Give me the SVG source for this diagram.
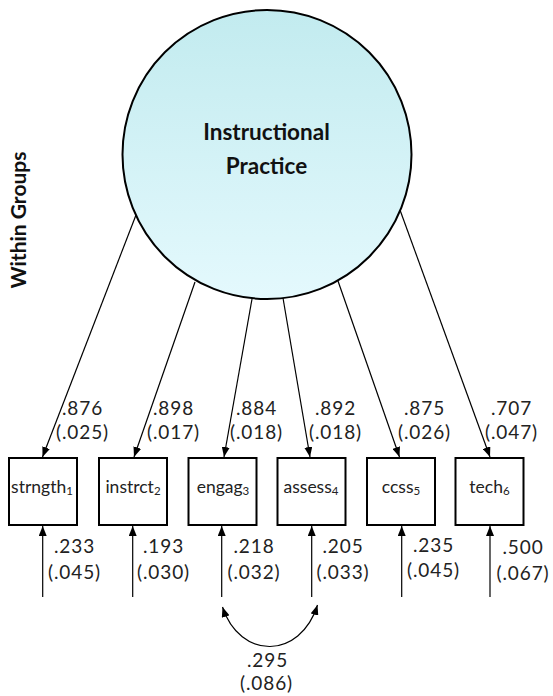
<svg xmlns="http://www.w3.org/2000/svg" width="553" height="696" viewBox="0 0 553 696">
<defs>
<linearGradient id="lg" x1="0" y1="0" x2="0" y2="1">
<stop offset="0" stop-color="#c2ebef"/>
<stop offset="1" stop-color="#e4f9fd"/>
</linearGradient>
<marker id="ah" markerUnits="userSpaceOnUse" markerWidth="10" markerHeight="8" refX="10" refY="4" orient="auto-start-reverse" viewBox="0 0 10 8">
<path d="M0,0 L10,4 L0,8 z" fill="#000"/>
</marker>
<style>
.lat{fill:url(#lg);stroke:#000;stroke-width:2}
.box{fill:#fff;stroke:#000;stroke-width:2}
.lt{font-family:Lato,"Open Sans",sans-serif;font-weight:bold;font-size:22.5px;fill:#111;text-anchor:middle}
.bt{font-family:Lato,"Open Sans",sans-serif;font-size:17.5px;fill:#222;text-anchor:middle}
.sub{font-size:11.5px}
.num{font-family:Lato,"Open Sans",sans-serif;font-size:19px;fill:#222;text-anchor:middle;letter-spacing:0.9px}
.ln{fill:none;stroke:#000;stroke-width:1.2}
</style>
</defs>
<g id="title">
<text transform="translate(26,220) rotate(-90)" style="font-family:Lato,'Open Sans',sans-serif;font-weight:bold;font-size:21px;fill:#111;text-anchor:middle">Within Groups</text>
</g>
<g id="instructional-practice">
<circle class="lat" cx="267" cy="154.5" r="144.5"/>
<text class="lt" x="266.5" y="139.5">Instructional</text>
<text class="lt" x="266.5" y="173.5">Practice</text>
</g>
<g id="strngth">
<rect class="box" x="9" y="458" width="68" height="67"/>
<text class="bt" x="42" y="493">strngth<tspan class="sub" dy="2">1</tspan></text>
</g>
<g id="instrct">
<rect class="box" x="99" y="458" width="68" height="67"/>
<text class="bt" x="133" y="493">instrct<tspan class="sub" dy="2">2</tspan></text>
</g>
<g id="engag">
<rect class="box" x="188.5" y="458" width="68" height="67"/>
<text class="bt" x="223" y="493">engag<tspan class="sub" dy="2">3</tspan></text>
</g>
<g id="assess">
<rect class="box" x="277.5" y="458" width="68" height="67"/>
<text class="bt" x="311" y="493">assess<tspan class="sub" dy="2">4</tspan></text>
</g>
<g id="ccss">
<rect class="box" x="367" y="458" width="68" height="67"/>
<text class="bt" x="401" y="493">ccss<tspan class="sub" dy="2">5</tspan></text>
</g>
<g id="tech">
<rect class="box" x="455.5" y="458" width="68" height="67"/>
<text class="bt" x="489.5" y="493">tech<tspan class="sub" dy="2">6</tspan></text>
</g>
<g id="connectors">
<line class="ln" x1="136" y1="215" x2="42.5" y2="457" marker-end="url(#ah)"/>
<line class="ln" x1="195" y1="282" x2="134" y2="457" marker-end="url(#ah)"/>
<line class="ln" x1="252" y1="299" x2="224" y2="457" marker-end="url(#ah)"/>
<line class="ln" x1="283" y1="298" x2="310" y2="457" marker-end="url(#ah)"/>
<line class="ln" x1="338" y1="281" x2="399.5" y2="457" marker-end="url(#ah)"/>
<line class="ln" x1="400" y1="210" x2="490" y2="457" marker-end="url(#ah)"/>
<line class="ln" x1="42.7" y1="597" x2="42.7" y2="526" marker-end="url(#ah)"/>
<line class="ln" x1="132.7" y1="597" x2="132.7" y2="526" marker-end="url(#ah)"/>
<line class="ln" x1="221.7" y1="597" x2="221.7" y2="526" marker-end="url(#ah)"/>
<line class="ln" x1="311.7" y1="597" x2="311.7" y2="526" marker-end="url(#ah)"/>
<line class="ln" x1="401.7" y1="597" x2="401.7" y2="526" marker-end="url(#ah)"/>
<line class="ln" x1="490" y1="597" x2="490" y2="526" marker-end="url(#ah)"/>
<path class="ln" d="M222.5,607 C240,660 300,660 317.5,605" marker-start="url(#ah)" marker-end="url(#ah)"/>
</g>
<g id="labels">
<text class="num" x="82.5" y="415">.876</text><text class="num" x="82.5" y="439">(.025)</text>
<text class="num" x="173.5" y="415">.898</text><text class="num" x="173.5" y="439">(.017)</text>
<text class="num" x="256.5" y="415">.884</text><text class="num" x="256.5" y="439">(.018)</text>
<text class="num" x="335.5" y="415">.892</text><text class="num" x="335.5" y="439">(.018)</text>
<text class="num" x="424.5" y="415">.875</text><text class="num" x="424.5" y="439">(.026)</text>
<text class="num" x="511.5" y="415">.707</text><text class="num" x="511.5" y="439">(.047)</text>
<text class="num" x="74.5" y="553">.233</text><text class="num" x="74.5" y="579">(.045)</text>
<text class="num" x="163.5" y="553">.193</text><text class="num" x="163.5" y="579">(.030)</text>
<text class="num" x="254" y="553">.218</text><text class="num" x="254" y="579">(.032)</text>
<text class="num" x="343" y="553">.205</text><text class="num" x="343" y="579">(.033)</text>
<text class="num" x="433.5" y="552">.235</text><text class="num" x="433.5" y="577">(.045)</text>
<text class="num" x="523" y="554">.500</text><text class="num" x="523" y="580">(.067)</text>
<text class="num" x="267.5" y="667">.295</text><text class="num" x="266.5" y="690">(.086)</text>
</g>
</svg>
